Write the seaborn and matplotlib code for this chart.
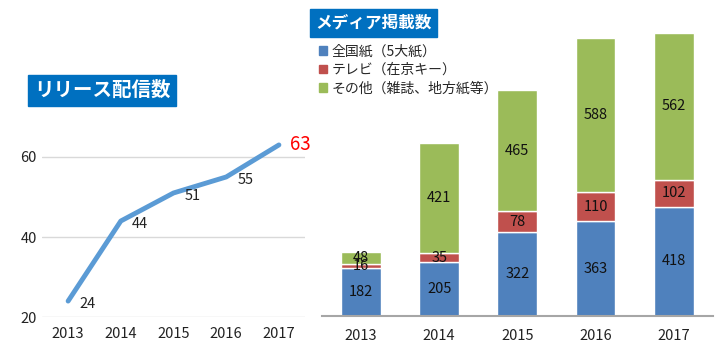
import matplotlib
matplotlib.use("Agg")
import matplotlib.pyplot as plt
import seaborn as sns
import numpy as np
from matplotlib.patches import Patch

sns.set_theme(style="white")
plt.rcParams['font.family'] = ['Noto Sans CJK JP', 'DejaVu Sans']

years = ["2013", "2014", "2015", "2016", "2017"]
releases = [24, 44, 51, 55, 63]
national = [182, 205, 322, 363, 418]
tv = [16, 35, 78, 110, 102]
other = [48, 421, 465, 588, 562]
series_names = ["全国紙（5大紙）", "テレビ（在京キー）", "その他（雑誌、地方紙等）"]
colors = ["#4F81BD", "#C0504D", "#9BBB59"]
title_left = "リリース配信数"
title_right = "メディア掲載数"

fig = plt.figure(figsize=(7.2, 3.5), dpi=100)

# Left: line chart
axl = fig.add_axes([0.058, 0.094, 0.366, 0.572])
sns.lineplot(x=years, y=releases, ax=axl, color="#5B9BD5", linewidth=3.5, sort=False)
axl.set_ylim(20, 70)
axl.set_xlim(-0.5, 4.5)
axl.set_yticks([20, 40, 60])
axl.yaxis.grid(True, color="#D9D9D9", linewidth=1)
axl.xaxis.grid(False)
for s in axl.spines.values():
    s.set_visible(False)
axl.tick_params(axis='both', labelsize=10.5, length=0, colors="#222222")
axl.tick_params(axis='x', pad=7)
axl.set_xlabel("")
axl.set_ylabel("")
for i, v in enumerate(releases):
    if i == len(releases) - 1:
        axl.annotate(str(v), (i, v), xytext=(8, 0), textcoords="offset points",
                     ha="left", va="center", color="red", fontsize=13.5)
    else:
        axl.annotate(str(v), (i, v), xytext=(14, -2), textcoords="offset points",
                     ha="center", va="center", color="#222222", fontsize=10.5)

fig.text(0.047, 0.742, title_left, color="white", fontsize=14, fontweight="bold",
         ha="left", va="center",
         bbox=dict(boxstyle="square,pad=0.3", facecolor="#0070C0", edgecolor="#0070C0"))

# Right: stacked bars
axr = fig.add_axes([0.447, 0.097, 0.543, 0.897])
bottom2 = np.array(national)
bottom3 = np.array(national) + np.array(tv)
sns.barplot(x=years, y=national, ax=axr, color=colors[0], width=0.51, saturation=1)
sns.barplot(x=years, y=tv, ax=axr, color=colors[1], width=0.51, saturation=1, bottom=bottom2)
sns.barplot(x=years, y=other, ax=axr, color=colors[2], width=0.51, saturation=1, bottom=bottom3)
for cont in axr.containers:
    axr.bar_label(cont, label_type="center", fontsize=10.5, color="#111111")
axr.set_ylim(0, 1200)
axr.set_xlim(-0.5, 4.5)
axr.set_yticks([])
for k in ["top", "right", "left"]:
    axr.spines[k].set_visible(False)
axr.spines["bottom"].set_color("#A6A6A6")
axr.spines["bottom"].set_linewidth(1.5)
axr.tick_params(axis='x', labelsize=10.5, length=0, pad=9, colors="#222222")
axr.set_xlabel("")
axr.set_ylabel("")

handles = [Patch(facecolor=c, edgecolor=c) for c in colors]
fig.legend(handles, series_names, loc="upper left", bbox_to_anchor=(0.435, 0.89),
           frameon=False, fontsize=10, handlelength=0.6, handleheight=0.6,
           handletextpad=0.3, labelspacing=0.35, borderaxespad=0)

fig.text(0.438, 0.935, title_right, color="white", fontsize=12, fontweight="bold",
         ha="left", va="center",
         bbox=dict(boxstyle="square,pad=0.3", facecolor="#0070C0", edgecolor="#0070C0"))

fig.savefig("out.png", dpi=100, facecolor="white")
